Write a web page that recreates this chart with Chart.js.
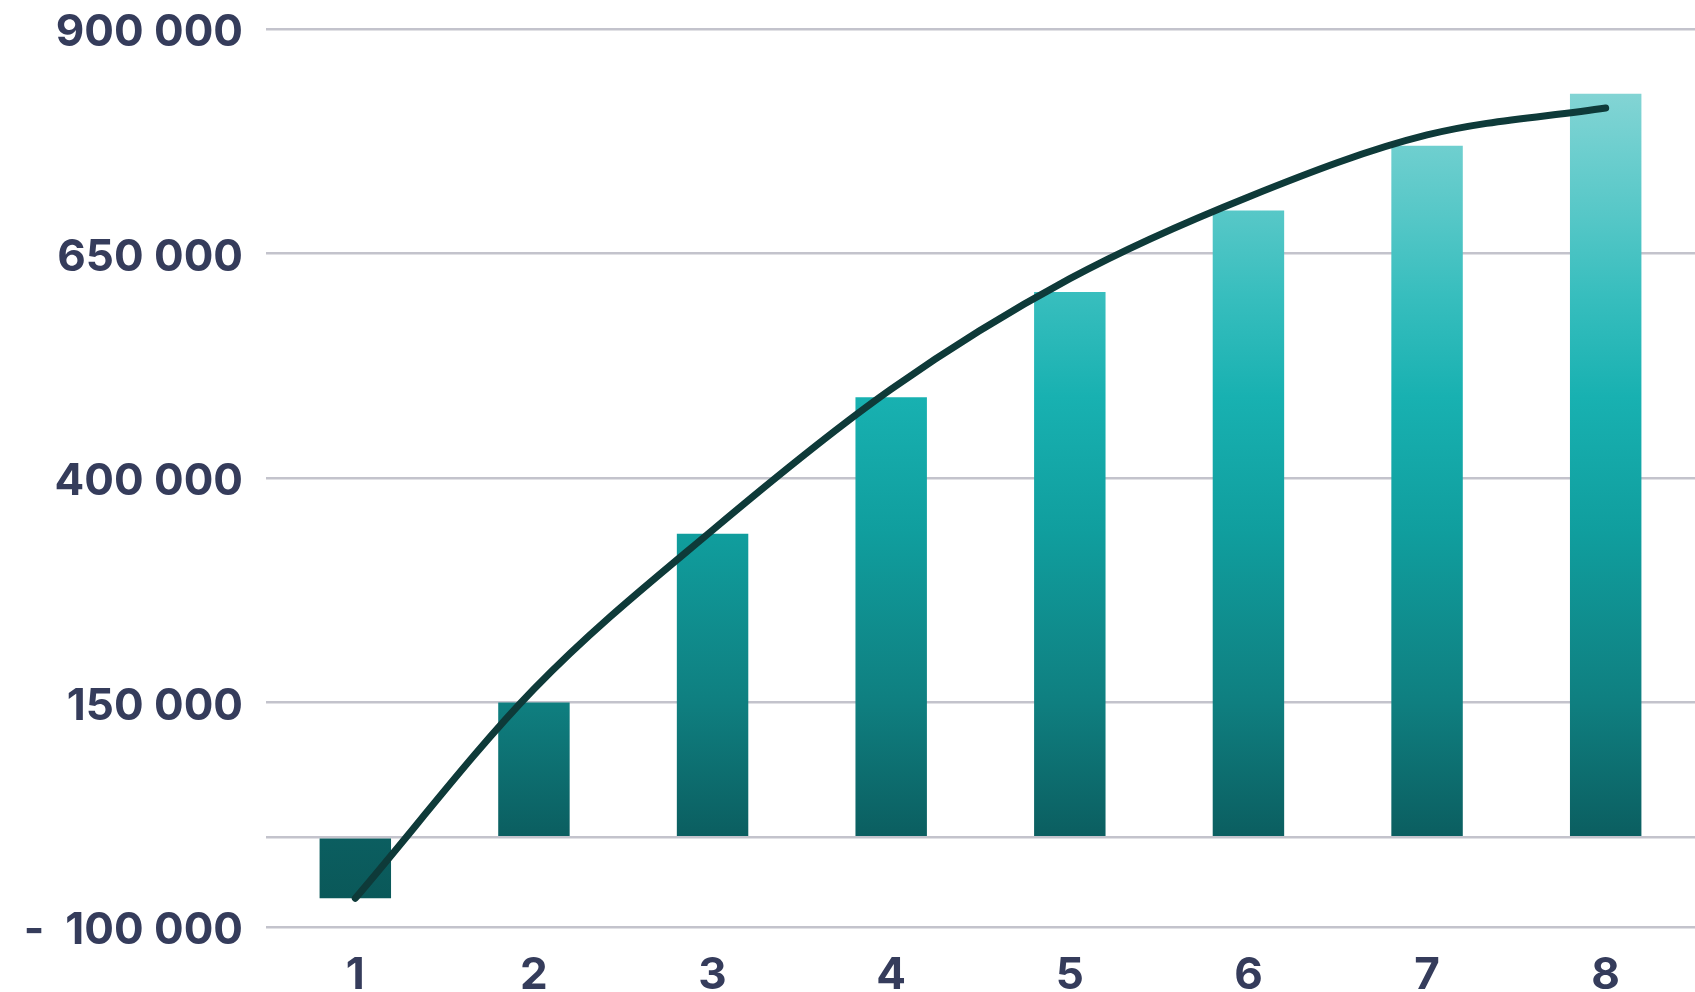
<!DOCTYPE html>
<html>
<head>
<meta charset="utf-8">
<script src="https://cdn.jsdelivr.net/npm/chart.js@4.4.1/dist/chart.umd.min.js"></script>
<style>
  html, body { margin: 0; padding: 0; background: #ffffff; }
  #wrap { width: 1695px; height: 992px; }
</style>
</head>
<body>
<div id="wrap"><canvas id="chart" width="1695" height="992"></canvas></div>
<script>
// chart data
const periods = ['1', '2', '3', '4', '5', '6', '7', '8'];
const barValues = [-68000, 150000, 338000, 490000, 607000, 698000, 770000, 828000];
const trendValues = [-68000, 165000, 342000, 499000, 622000, 713000, 782000, 812000];
const yTicks = [-100000, 150000, 400000, 650000, 900000];
const yMin = -100000;
const yMax = 900000;

const textColor = '#353c5b';
const gridColor = '#c3c3cc';

function fmt(v) {
    const s = String(Math.abs(v)).replace(/\B(?=(\d{3})+(?!\d))/g, ' ');
    return v < 0 ? '-  ' + s : s;
}

function barGradient(context) {
    const chart = context.chart;
    const area = chart.chartArea;
    if (!area) return '#0fa8a8';
    const g = chart.ctx.createLinearGradient(0, area.top, 0, area.bottom);
    g.addColorStop(0, '#8fd8d8');
    g.addColorStop(0.074, '#82d4d4');
    g.addColorStop(0.13, '#6fcfcf');
    g.addColorStop(0.21, '#55c7c7');
    g.addColorStop(0.295, '#38bebe');
    g.addColorStop(0.41, '#18b1b1');
    g.addColorStop(0.56, '#109e9e');
    g.addColorStop(0.75, '#0f7f80');
    g.addColorStop(0.90, '#0b5e60');
    g.addColorStop(1, '#0a5656');
    return g;
}

const ctx = document.getElementById('chart');
new Chart(ctx, {
    type: 'bar',
    data: {
        labels: periods,
        datasets: [{
            type: 'line',
            data: trendValues,
            borderColor: '#0e3a39',
            borderWidth: 7,
            borderCapStyle: 'round',
            pointRadius: 0,
            cubicInterpolationMode: 'monotone',
            fill: false,
            order: 0
        }, {
            type: 'bar',
            data: barValues,
            backgroundColor: barGradient,
            borderWidth: 0,
            barPercentage: 0.4,
            categoryPercentage: 1,
            order: 1
        }]
    },
    options: {
        responsive: false,
        animation: false,
        devicePixelRatio: 1,
        layout: { padding: 0 },
        plugins: { legend: { display: false }, tooltip: { enabled: false } },
        scales: {
            x: {
                grid: { display: false },
                border: { display: false },
                ticks: {
                    color: textColor,
                    font: { family: 'Inter', size: 44, weight: '700' },
                    padding: 14
                },
                afterFit: scale => { scale.height = 65; }
            },
            y: {
                min: yMin,
                max: yMax,
                afterBuildTicks: scale => {
                    scale.ticks = yTicks.concat([0]).sort((a, b) => a - b).map(v => ({ value: v }));
                },
                grid: { color: gridColor, lineWidth: 2.5, drawTicks: false },
                border: { display: false },
                ticks: {
                    color: textColor,
                    font: { family: 'Inter', size: 44, weight: '700' },
                    padding: 23,
                    labelOffset: 4,
                    callback: v => v === 0 ? '' : fmt(v)
                },
                afterFit: scale => {
                    scale.width = 266;
                    scale.paddingTop = 29;
                }
            }
        }
    }
});
</script>
</body>
</html>
